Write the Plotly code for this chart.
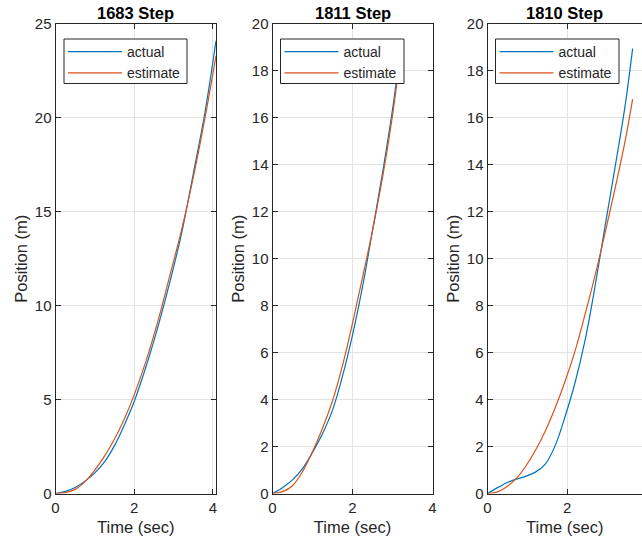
import plotly.graph_objects as go

# ---- data -------------------------------------------------------------
titles = ["1683 Step", "1811 Step", "1810 Step"]

t_1683 = [0, 0.25, 0.5, 0.75, 1.0, 1.25, 1.5, 1.75, 2.0, 2.3, 2.6, 2.9, 3.2, 3.5, 3.8, 4.08]
actual_1683 = [0, 0.11, 0.32, 0.66, 1.1, 1.7, 2.55, 3.65, 4.9, 6.75, 8.85, 11.2, 13.8, 17.0, 20.3, 24.1]
estimate_1683 = [0, 0.05, 0.22, 0.63, 1.25, 2.0, 2.9, 3.97, 5.25, 7.05, 9.15, 11.55, 14.0, 16.8, 20.0, 23.3]

t_1811 = [0, 0.25, 0.5, 0.75, 1.0, 1.25, 1.5, 1.75, 2.0, 2.25, 2.5, 2.75, 3.0, 3.15, 3.22]
actual_1811 = [0, 0.25, 0.58, 1.06, 1.75, 2.55, 3.55, 5.0, 6.75, 8.8, 11.2, 13.65, 16.35, 18.25, 19.1]
estimate_1811 = [0, 0.08, 0.33, 0.93, 1.78, 2.78, 3.95, 5.45, 7.25, 9.2, 11.2, 13.45, 16.1, 18.0, 18.85]

t_1810 = [0, 0.25, 0.5, 0.7, 0.95, 1.2, 1.45, 1.7, 1.95, 2.2, 2.45, 2.7, 2.95, 3.2, 3.45, 3.64]
actual_1810 = [0, 0.25, 0.47, 0.6, 0.73, 0.91, 1.25, 2.05, 3.3, 4.75, 6.55, 8.85, 11.4, 13.9, 16.5, 18.95]
estimate_1810 = [0, 0.07, 0.31, 0.6, 1.14, 1.83, 2.66, 3.66, 4.8, 6.1, 7.65, 9.3, 11.1, 13.0, 15.0, 16.8]

x_ranges = [[0, 4.08], [0, 4], [0, 3.875]]
y_ranges = [[0, 25], [0, 20], [0, 20]]
y_dticks = [5, 2, 2]
x_ticks = [0, 2, 4]

# ---- style ------------------------------------------------------------
W, H = 642, 545
BLUE = "#0072BD"
ORANGE = "#D95319"
INK = "#262626"
GRID = "#e3e3e3"
FONT = "Liberation Sans, Arial, sans-serif"

# panel pixel extents (left, right) and shared top/bottom
panels_px = [(55.5, 216), (272.5, 432.5), (487.5, 642)]
top_px, bottom_px = 24, 493.5
# legend frame (left, right, top, bottom) in pixels
legend_box_px = [(64, 187, 39, 83.5), (280.5, 404, 39, 83.5), (495.5, 619, 39, 83.5)]

fig = go.Figure()

series = [
    (t_1683, actual_1683, estimate_1683),
    (t_1811, actual_1811, estimate_1811),
    (t_1810, actual_1810, estimate_1810),
]

for i, (t, act, est) in enumerate(series):
    sfx = "" if i == 0 else str(i + 1)
    leg = "legend" + sfx
    fig.add_trace(go.Scatter(x=t, y=act, mode="lines", name="actual",
                             line=dict(color=BLUE, width=1.2, shape="spline", smoothing=1.0),
                             xaxis="x" + sfx, yaxis="y" + sfx, legend=leg))
    fig.add_trace(go.Scatter(x=t, y=est, mode="lines", name="estimate",
                             line=dict(color=ORANGE, width=1.2, shape="spline", smoothing=1.0),
                             xaxis="x" + sfx, yaxis="y" + sfx, legend=leg))

layout = dict(
    width=W, height=H,
    margin=dict(l=0, r=0, t=0, b=0, autoexpand=False),
    paper_bgcolor="white", plot_bgcolor="white",
    font=dict(family=FONT, color=INK),
    annotations=[], shapes=[],
)

ydom = [1 - bottom_px / H, 1 - top_px / H]
for i in range(3):
    sfx = "" if i == 0 else str(i + 1)
    l_px, r_px = panels_px[i]
    last = i == 2
    layout["xaxis" + sfx] = dict(
        domain=[l_px / W, r_px / W], anchor="y" + sfx, automargin=False,
        range=x_ranges[i], tickvals=x_ticks,
        showgrid=True, gridcolor=GRID, gridwidth=1,
        showline=True, linecolor=INK, linewidth=1, mirror="ticks",
        ticks="inside", ticklen=5, tickcolor=INK, tickwidth=1,
        tickfont=dict(size=15, color=INK), zeroline=False,
        title=dict(text="Time (sec)", font=dict(size=16.5, color=INK), standoff=6),
    )
    layout["yaxis" + sfx] = dict(
        domain=ydom, anchor="x" + sfx, automargin=False,
        range=y_ranges[i], dtick=y_dticks[i], tick0=0,
        showgrid=True, gridcolor=GRID, gridwidth=1,
        showline=True, linecolor=INK, linewidth=1,
        mirror=False if last else "ticks",
        ticks="inside", ticklen=5, tickcolor=INK, tickwidth=1,
        tickfont=dict(size=15, color=INK), zeroline=False,
        title=dict(text="Position (m)", font=dict(size=16.5, color=INK), standoff=3),
    )
    bl, br, bt, bb = legend_box_px[i]
    # white legend frame
    layout["shapes"].append(dict(
        type="rect", xref="paper", yref="paper", layer="above",
        x0=bl / W, x1=br / W, y0=1 - bb / H, y1=1 - bt / H,
        fillcolor="white", line=dict(color=INK, width=1),
    ))
    layout["legend" + sfx] = dict(
        x=(bl - 1) / W, y=1 - (bt - 3) / H,
        xanchor="left", yanchor="top",
        bgcolor="rgba(0,0,0,0)", borderwidth=0,
        font=dict(size=14, color=INK), tracegroupgap=0, itemwidth=54,
    )
    layout["annotations"].append(dict(
        text="<b>%s</b>" % titles[i], showarrow=False,
        xref="x%s domain" % sfx, yref="y%s domain" % sfx,
        x=0.5, y=1, xanchor="center", yanchor="bottom", yshift=0,
        font=dict(size=16.5, color="black", family=FONT),
    ))

fig.update_layout(**layout)
fig.write_html("out.html")
